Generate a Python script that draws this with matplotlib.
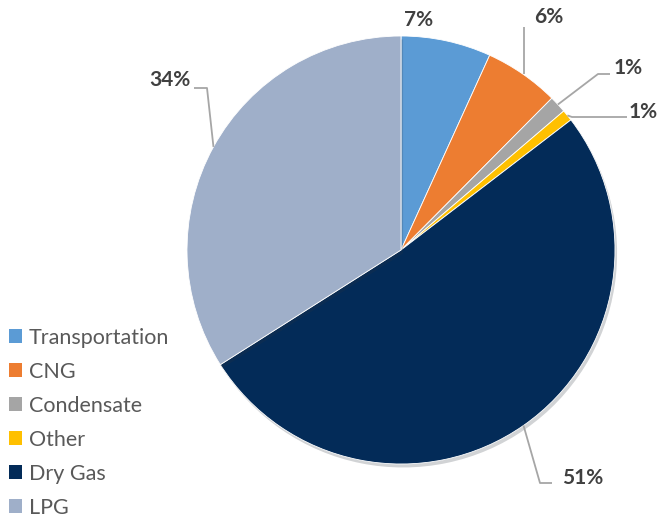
import numpy as np
import matplotlib
matplotlib.use("Agg")
import matplotlib.pyplot as plt
import matplotlib.patheffects as path_effects

# share of each segment, percent
categories = ["Transportation", "CNG", "Condensate", "Other", "Dry Gas", "LPG"]
shares = [6.8, 5.65, 1.3, 0.85, 51.4, 34.0]
colors = ["#5B9BD5", "#ED7D31", "#A5A5A5", "#FFC000", "#032B58", "#9FAFC9"]

W, H = 662, 520
CX, CY, R = 401, 270, 214

plt.rcParams['font.family'] = ['Lato', 'DejaVu Sans']

fig = plt.figure(figsize=(W / 100, H / 100), dpi=100)
ax = fig.add_axes([0, 0, 1, 1])
ax.set_xlim(0, W)
ax.set_ylim(0, H)
ax.set_aspect('equal')
ax.axis('off')

wedges, _ = ax.pie(shares, colors=colors, startangle=90, counterclock=False,
                   center=(CX, CY), radius=R, frame=True,
                   wedgeprops=dict(edgecolor='white', linewidth=0.6))
for w in wedges:
    w.set_path_effects([path_effects.SimplePatchShadow(offset=(1.5, -2.5), alpha=0.18),
                        path_effects.Normal()])
ax.set_xlim(0, W)
ax.set_ylim(0, H)
ax.axis('off')


def edge_point(w):
    mid = np.deg2rad((w.theta1 + w.theta2) / 2)
    return CX + R * np.cos(mid), CY + R * np.sin(mid)


# label anchor (text position) and elbow of leader line, per segment
label_pos = [(419, 500), (549, 503), (628, 452), (643, 408), (583, 42), (170, 440)]
elbows = [None, [(524, 493)], [(610, 446), (598, 446)], [(627, 403), (572, 403)],
          [(552, 37), (540, 37)], [(194, 432), (207, 432)]]

line_kw = dict(color='#A6A6A6', lw=1.3, solid_capstyle='butt')
for w, val, (lx, ly), elbow in zip(wedges, shares, label_pos, elbows):
    ex, ey = edge_point(w)
    if elbow is not None:
        if len(elbow) == 1:
            xs = [elbow[0][0], elbow[0][0]]
            ys = [elbow[0][1], ey]
        else:
            xs = [elbow[0][0], elbow[1][0], ex]
            ys = [elbow[0][1], elbow[1][1], ey]
        ax.plot(xs, ys, **line_kw)
    ax.text(lx, ly, f"{round(val):.0f}%", ha='center', va='center',
            fontsize=15, fontweight='bold', color='#404040')

leg = fig.legend(wedges, categories, loc='upper left',
                 bbox_to_anchor=(9 / W, 1 - 328 / H), frameon=False,
                 fontsize=15.5, handlelength=0.62, handleheight=0.62,
                 handletextpad=0.3, labelspacing=0.65, borderpad=0,
                 borderaxespad=0)
for t in leg.get_texts():
    t.set_color('#595959')
for h in leg.legend_handles:
    h.set_path_effects([])
    h.set_edgecolor('none')

fig.savefig("out.png", dpi=100)
